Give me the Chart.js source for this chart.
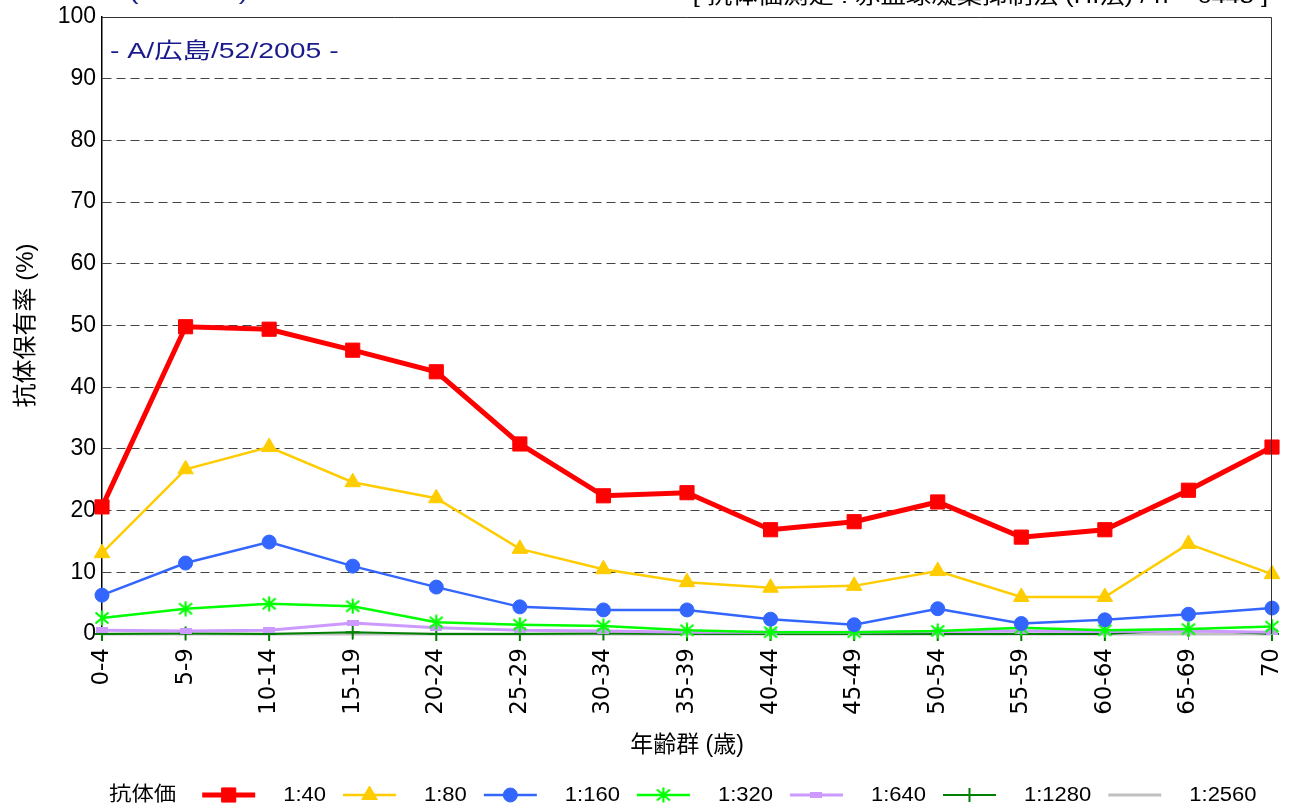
<!DOCTYPE html>
<html>
<head>
<meta charset="utf-8">
<script src="https://cdn.jsdelivr.net/npm/chart.js@4.4.1/dist/chart.umd.min.js"></script>
<style>
  html, body { margin: 0; padding: 0; background: #fff; }
  #wrap { width: 1290px; height: 807px; position: relative; }
</style>
</head>
<body>
<div id="wrap"><canvas id="hiChart" width="1290" height="807"></canvas></div>
<script>
// age groups (x categories)
const ageGroups = ["0-4", "5-9", "10-14", "15-19", "20-24", "25-29", "30-34", "35-39",
    "40-44", "45-49", "50-54", "55-59", "60-64", "65-69", "70"];

// antibody titer series (% of people with titer >= value)
const titerLabels = ["1:40", "1:80", "1:160", "1:320", "1:640", "1:1280", "1:2560"];
const titer40   = [20.6, 49.8, 49.4, 46.0, 42.5, 30.8, 22.4, 22.9, 16.9, 18.2, 21.4, 15.7, 16.9, 23.3, 30.3];
const titer80   = [13.1, 26.7, 30.3, 24.6, 22.0, 13.8, 10.5, 8.4, 7.5, 7.8, 10.2, 6.0, 6.0, 14.6, 9.7];
const titer160  = [6.3, 11.5, 14.9, 11.0, 7.6, 4.4, 3.9, 3.9, 2.4, 1.5, 4.1, 1.7, 2.3, 3.2, 4.2];
const titer320  = [2.6, 4.1, 4.9, 4.5, 1.9, 1.5, 1.3, 0.6, 0.3, 0.3, 0.5, 1.0, 0.6, 0.8, 1.2];
const titer640  = [0.6, 0.5, 0.6, 1.8, 1.0, 0.6, 0.5, 0.3, 0.3, 0.3, 0.4, 0.5, 0.4, 0.5, 0.3];
const titer1280 = [0, 0.1, 0, 0.3, 0, 0, 0.1, 0, 0, 0, 0, 0, 0, 0.7, 0];
const titer2560 = [0, 0, 0, 0, 0, 0, 0, 0, 0, 0, 0, 0, 0, 0, 0];

const yTicks = [0, 10, 20, 30, 40, 50, 60, 70, 80, 90, 100];

const FONT = '"Liberation Sans", Arial, "Noto Sans CJK JP", sans-serif';
const WIDE = '"DejaVu Sans", "Noto Sans CJK JP", sans-serif';

// custom marker shapes
function makeAsterisk(color) {
    const c = document.createElement('canvas');
    c.width = 16; c.height = 16;
    const g = c.getContext('2d');
    g.strokeStyle = color;
    g.lineWidth = 2.2;
    g.beginPath();
    g.moveTo(8, 0.5); g.lineTo(8, 15.5);
    g.moveTo(1.5, 2.5); g.lineTo(14.5, 13.5);
    g.moveTo(14.5, 2.5); g.lineTo(1.5, 13.5);
    g.stroke();
    return c;
}
function makeDash(color) {
    const c = document.createElement('canvas');
    c.width = 12; c.height = 6;
    const g = c.getContext('2d');
    g.fillStyle = color;
    g.fillRect(0, 0, 12, 6);
    return c;
}

const colors = ['#FF0000', '#FFCC00', '#3366FF', '#00FF00', '#CC99FF', '#008000', '#C0C0C0'];
const series = [titer40, titer80, titer160, titer320, titer640, titer1280, titer2560];
const styles = ['rect', 'triangle', 'circle', makeAsterisk('#00FF00'), makeDash('#CC99FF'), 'cross', false];
const radii = [10, 9, 7, 8, 6, 7, 0];
const widths = [5, 2.5, 2.5, 2.5, 3, 2, 3];

const datasets = series.map((data, i) => ({
    label: titerLabels[i],
    data: data,
    borderColor: colors[i],
    backgroundColor: colors[i],
    borderWidth: widths[i],
    pointStyle: styles[i],
    pointRadius: radii[i],
    pointHoverRadius: radii[i],
    pointBorderWidth: i === 5 ? 2 : 1,
    pointBorderColor: colors[i],
    pointBackgroundColor: colors[i],
    tension: 0,
    clip: false
}));

function stretchText(ctx, text, x, y, sx, align) {
    const w = ctx.measureText(text).width * sx;
    let left = x;
    if (align === 'right') left = x - w;
    if (align === 'center') left = x - w / 2;
    ctx.save();
    ctx.translate(left, y);
    ctx.scale(sx, 1);
    ctx.textAlign = 'left';
    ctx.fillText(text, 0, 0);
    ctx.restore();
}

// frame, header texts, inset label and the legend row
const decorPlugin = {
    id: 'decor',
    afterDraw(chart) {
        const ctx = chart.ctx;
        const area = chart.chartArea;
        ctx.save();
        ctx.strokeStyle = '#333';
        ctx.lineWidth = 1;
        ctx.beginPath();
        ctx.moveTo(area.left, area.top + 0.5);
        ctx.lineTo(area.right - 0.5, area.top + 0.5);
        ctx.lineTo(area.right - 0.5, area.bottom);
        ctx.stroke();

        ctx.textBaseline = 'alphabetic';
        ctx.fillStyle = '#1A1A8C';
        ctx.font = '22px ' + FONT;
        stretchText(ctx, '(A/H3N2)', 129, -1, 1.3, 'left');

        ctx.fillStyle = '#000';
        ctx.font = '21px ' + FONT;
        stretchText(ctx, '[ 抗体価測定 : 赤血球凝集抑制法 (HI法) / n = 6445 ]', 1268, 3, 1.21, 'right');

        ctx.fillStyle = '#1A1A8C';
        ctx.font = '22px ' + FONT;
        stretchText(ctx, '- A/広島/52/2005 -', 110, 58, 1.29, 'left');

        // legend
        const ly = 795;
        ctx.fillStyle = '#000';
        ctx.font = '20px ' + FONT;
        ctx.textBaseline = 'middle';
        stretchText(ctx, '抗体価', 109, ly, 1.12, 'left');
        let x = 109 + ctx.measureText('抗体価').width * 1.12 + 26;
        chart.data.datasets.forEach(ds => {
            ctx.strokeStyle = ds.borderColor;
            ctx.lineWidth = ds.borderWidth;
            ctx.beginPath();
            ctx.moveTo(x, ly);
            ctx.lineTo(x + 53, ly);
            ctx.stroke();
            if (ds.pointStyle) {
                ctx.fillStyle = ds.pointBackgroundColor;
                ctx.strokeStyle = ds.pointBorderColor;
                ctx.lineWidth = ds.pointBorderWidth;
                Chart.helpers.drawPoint(ctx, {
                    pointStyle: ds.pointStyle, rotation: 0,
                    radius: ds.pointRadius, borderWidth: ds.pointBorderWidth
                }, x + 26.5, ly);
            }
            x += 53 + 28;
            ctx.fillStyle = '#000';
            stretchText(ctx, ds.label, x, ly, 1.1, 'left');
            x += ctx.measureText(ds.label).width * 1.1 + 17;
        });
        ctx.restore();
    }
};

new Chart(document.getElementById('hiChart'), {
    type: 'line',
    data: { labels: ageGroups, datasets: datasets },
    options: {
        responsive: false,
        animation: false,
        layout: { padding: { top: 17, right: 18, left: 0, bottom: 0 } },
        plugins: {
            legend: { display: false },
            tooltip: { enabled: false }
        },
        scales: {
            x: {
                type: 'category',
                offset: false,
                grid: { drawOnChartArea: false, drawTicks: true, tickLength: 6, color: '#808080' },
                border: { color: '#808080', width: 1 },
                ticks: {
                    autoSkip: false, minRotation: 90, maxRotation: 90, padding: 8,
                    color: '#000', font: { family: WIDE, size: 23 }
                },
                title: {
                    display: true, text: '年齢群 (歳)', color: '#000',
                    font: { family: FONT, size: 23 }, padding: { top: 0, bottom: 48 }
                },
                afterFit(scale) {
                    scale.height = 173;
                    scale.paddingLeft = 0;
                    scale.paddingRight = 0;
                }
            },
            y: {
                min: 0, max: 100,
                afterBuildTicks(scale) { scale.ticks = yTicks.map(v => ({ value: v })); },
                grid: {
                    drawTicks: false,
                    color: ctx => (ctx.tick && (ctx.tick.value === 0 || ctx.tick.value === 100)) ? 'rgba(0,0,0,0)' : '#444',
                    lineWidth: 1
                },
                border: { color: '#000', width: 1.5, dash: [9, 5] },
                ticks: { padding: 6, color: '#000', font: { family: FONT, size: 23 } },
                title: {
                    display: true, text: '抗体保有率 (%)', color: '#000',
                    font: { family: FONT, size: 24 }, padding: { top: 12, bottom: 0 }
                },
                afterFit(scale) {
                    scale.width = 102;
                    scale.paddingTop = 0;
                    scale.paddingBottom = 0;
                }
            }
        }
    },
    plugins: [decorPlugin]
});
</script>
</body>
</html>
